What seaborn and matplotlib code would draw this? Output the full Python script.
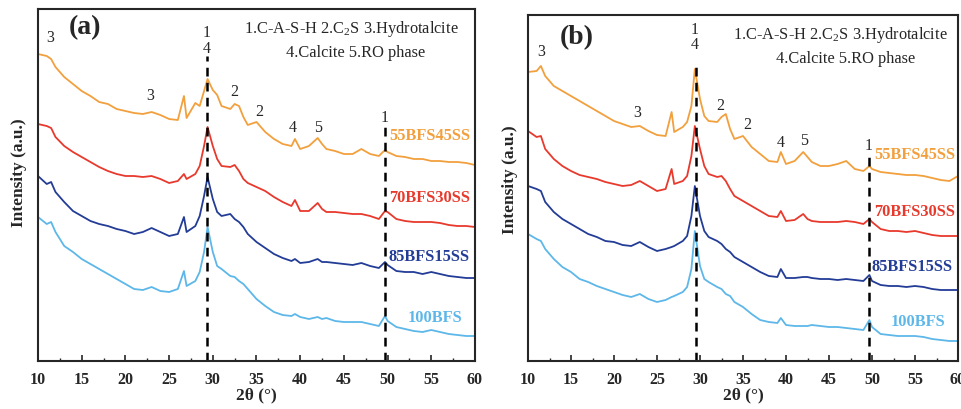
import matplotlib
matplotlib.use("Agg")
import matplotlib.pyplot as plt
from matplotlib.ticker import MultipleLocator
import seaborn as sns
import pandas as pd

sns.set_style("ticks")
plt.rcParams['font.family'] = ['Liberation Serif', 'DejaVu Serif']
plt.rcParams['mathtext.fontset'] = 'custom'
plt.rcParams['mathtext.rm'] = 'Liberation Serif'

# 2theta grid (degrees)
two_theta = [10, 11, 11.5, 12, 13, 14, 15, 16, 17, 18, 19, 20, 21, 22, 23, 24, 25, 26,
             26.7, 27, 28, 28.5, 29, 29.4, 30, 30.5, 31, 32, 32.5, 33, 33.5, 34,
             35, 36, 37, 38, 39, 39.4, 40, 41, 42, 42.5, 43, 44, 45, 46, 47, 48, 49, 49.7, 50,
             51, 52, 53, 54, 55, 56, 57, 58, 59, 60]

series_names = ["55BFS45SS", "70BFS30SS", "85BFS15SS", "100BFS"]
series_colors = ["#F2A03D", "#E8392D", "#233C96", "#5DB7E9"]

# Panel (a) intensities (a.u., stacked offsets)
a_55 = [307, 305, 302, 294, 284, 277, 270, 265, 259, 257, 252, 250, 248, 247, 249, 246, 242, 241,
        265, 243, 258, 255, 270, 282, 271, 266, 255, 252, 257, 255, 244, 236,
        239, 229, 222, 217, 215, 222, 212, 215, 223, 217, 212, 210, 207, 207, 212, 207, 205, 211, 209,
        205, 204, 202, 202, 200, 200, 199, 199, 198, 196]
a_70 = [237, 235, 233, 224, 215, 209, 204, 199, 194, 190, 187, 185, 185, 184, 185, 182, 178, 180,
        187, 182, 187, 195, 215, 234, 215, 202, 195, 194, 196, 190, 182, 178,
        174, 170, 164, 159, 155, 161, 150, 150, 158, 152, 149, 149, 148, 147, 147, 145, 142, 150, 149,
        142, 140, 139, 139, 139, 138, 136, 135, 135, 134]
a_85 = [185, 177, 179, 169, 159, 150, 145, 140, 137, 135, 132, 130, 127, 129, 133, 129, 125, 127,
        144, 129, 135, 145, 165, 184, 162, 149, 145, 147, 142, 139, 134, 127,
        119, 113, 107, 103, 100, 102, 98, 99, 102, 99, 99, 98, 97, 96, 98, 95, 93, 99, 96,
        90, 89, 89, 87, 89, 87, 85, 84, 83, 83]
a_100 = [144, 137, 139, 129, 115, 109, 102, 97, 92, 87, 82, 77, 72, 71, 74, 70, 69, 72,
         90, 75, 80, 89, 109, 134, 109, 95, 92, 85, 84, 80, 77, 72,
         62, 55, 49, 46, 45, 47, 44, 42, 44, 42, 43, 40, 39, 39, 39, 37, 35, 45, 40,
         34, 32, 30, 29, 31, 29, 27, 26, 25, 25]

# Panel (b) intensities
b_55 = [289, 290, 295, 285, 275, 270, 265, 260, 255, 250, 245, 240, 237, 234, 235, 230, 226, 225,
        249, 229, 234, 239, 255, 292, 262, 245, 240, 239, 244, 247, 232, 222,
        225, 214, 207, 200, 199, 209, 197, 200, 209, 204, 199, 195, 195, 197, 200, 192, 190, 195, 192,
        189, 188, 187, 186, 186, 185, 183, 181, 180, 185]
b_70 = [230, 224, 225, 212, 202, 195, 190, 186, 184, 182, 179, 177, 175, 176, 180, 175, 170, 172,
        192, 177, 180, 185, 205, 235, 212, 195, 187, 184, 185, 180, 172, 165,
        160, 155, 150, 145, 144, 150, 140, 141, 147, 142, 140, 139, 139, 139, 140, 139, 137, 142, 139,
        132, 130, 130, 129, 130, 128, 126, 125, 125, 125]
b_85 = [175, 172, 170, 159, 149, 142, 137, 132, 127, 124, 120, 119, 116, 115, 119, 114, 110, 112,
        114, 115, 120, 125, 145, 175, 145, 130, 124, 120, 117, 112, 109, 104,
        99, 94, 89, 85, 84, 92, 83, 83, 84, 84, 83, 82, 82, 81, 82, 81, 80, 86, 80,
        76, 75, 75, 74, 75, 74, 72, 71, 71, 71]
b_100 = [127, 122, 120, 112, 102, 94, 89, 82, 79, 75, 72, 69, 66, 64, 67, 62, 59, 61,
         64, 65, 69, 74, 92, 130, 95, 82, 79, 74, 72, 67, 65, 59,
         54, 47, 41, 39, 38, 43, 36, 35, 35, 35, 36, 35, 34, 34, 33, 32, 31, 41, 34,
         27, 26, 25, 25, 25, 24, 22, 21, 20, 20]

legend_line1 = r"1.C-A-S-H 2.C$_2$S 3.Hydrotalcite"
legend_line2 = "4.Calcite 5.RO phase"

fig = plt.figure(figsize=(9.62, 4.10), dpi=100)
ax_a = fig.add_axes([38/962, 48/410, 437/962, 352/410])
ax_b = fig.add_axes([528/962, 48/410, 430/962, 346/410])

panels = [
    dict(ax=ax_a, data=[a_55, a_70, a_85, a_100], ylim=352, tag="(a)",
         tagpos=(15.4, 334), ylab=(-0.025, (362 - 173) / 352),
         dashes=[(29.35, 305), (49.65, 237)],
         marks=[("3", 11.4, 324), ("1", 29.35, 329), ("4", 29.35, 313), ("3", 22.8, 266),
                ("2", 32.5, 270), ("2", 35.3, 250), ("4", 39.2, 234), ("5", 42.0, 234),
                ("1", 49.7, 244)],
         leg=[(45.9, 333), (46.3, 309)],
         labels=[(54.85, 226), (54.85, 164), (54.7, 105), (55.4, 44)]),
    dict(ax=ax_b, data=[b_55, b_70, b_85, b_100], ylim=346, tag="(b)",
         tagpos=(15.7, 324), ylab=(-0.023, (362 - 180) / 346),
         dashes=[(29.5, 300), (49.65, 207)],
         marks=[("3", 11.5, 310), ("1", 29.4, 332), ("4", 29.4, 317), ("3", 22.7, 249),
                ("2", 32.3, 256), ("2", 35.5, 237), ("4", 39.4, 219), ("5", 42.1, 221),
                ("1", 49.65, 216)],
         leg=[(46.3, 327), (46.9, 303)],
         labels=[(55.0, 207), (55.0, 150), (54.65, 95), (55.35, 40)]),
]

for p in panels:
    ax = p["ax"]
    for name, color, vals in zip(series_names, series_colors, p["data"]):
        df = pd.DataFrame({"2theta": two_theta, "I": vals})
        sns.lineplot(data=df, x="2theta", y="I", ax=ax, color=color, linewidth=1.3,
                     estimator=None, sort=False)
    for (x, ytop) in p["dashes"]:
        ax.plot([x, x], [0, ytop], color="black", linestyle=(0, (3.5, 2.5)), linewidth=1.8)
    ax.set_xlim(10, 60)
    ax.set_ylim(0, p["ylim"])
    ax.set_yticks([])
    ax.xaxis.set_major_locator(MultipleLocator(5))
    ax.xaxis.set_minor_locator(MultipleLocator(2.5))
    ax.tick_params(axis="x", which="major", direction="in", length=4, width=1.2,
                   labelsize=11.5, pad=7)
    ax.tick_params(axis="x", which="minor", direction="in", length=2.5, width=1.0)
    for lab in ax.get_xticklabels():
        lab.set_fontweight("bold")
    for s in ax.spines.values():
        s.set_linewidth(1.5)
        s.set_visible(True)
    ax.set_xlabel("2θ (°)", fontsize=12.5, fontweight="bold", labelpad=0)
    ax.set_ylabel("Intensity (a.u.)", fontsize=12.5, fontweight="bold")
    ax.yaxis.set_label_coords(*p["ylab"])
    ax.text(*p["tagpos"], p["tag"], fontsize=20, fontweight="bold", ha="center", va="center")
    for t, x, y in p["marks"]:
        ax.text(x, y, t, fontsize=11.5, ha="center", va="center")
    ax.text(*p["leg"][0], legend_line1, fontsize=11.8, ha="center", va="center")
    ax.text(*p["leg"][1], legend_line2, fontsize=11.8, ha="center", va="center")
    for name, color, (x, y) in zip(series_names, series_colors, p["labels"]):
        ax.text(x, y, name, fontsize=11.8, fontweight="bold", color=color,
                ha="center", va="center")

fig.savefig("out.png", dpi=100)
